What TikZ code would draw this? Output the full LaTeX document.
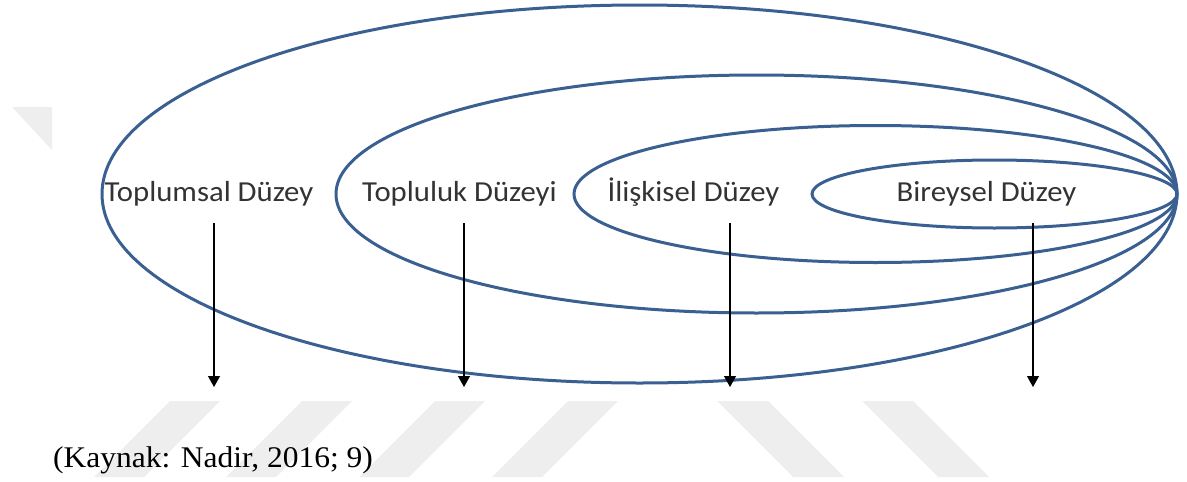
\documentclass[tikz,border=0pt]{standalone}
\usepackage{fontspec}
\usetikzlibrary{arrows.meta}
\newfontfamily\fontlivello[FakeStretch=1.06]{Carlito}
\newfontfamily\fontkaynak[FakeStretch=1.05]{Liberation Serif}
\definecolor{bluellisse}{RGB}{58,95,145}
\definecolor{filigrana}{RGB}{238,238,238}
\tikzset{
  livello/.style={draw=bluellisse, line width=3pt},
  etichetta/.style={anchor=base, inner sep=0pt, text=black!80,
    font=\fontlivello\fontsize{29}{35}\selectfont},
  freccia/.style={->, line width=1.2pt},
  striscia/.style={fill=filigrana, draw=none}
}
\begin{document}
\begin{tikzpicture}[x=1pt, y=-1pt, >={Triangle[width=12pt,length=11pt]}]
    % --- Impostazioni ---
    \def\destra{1177} % punto comune a destra delle ellissi
    \def\centroy{194} % quota dei centri
    \def\alto{223}    % inizio delle frecce
    \def\basso{387}   % fine delle frecce
    \useasboundingbox (0,0) rectangle (1187,482);

    % --- Filigrana ---
    \fill[striscia] (12,107) -- (52,107) -- (52,150) -- cycle;
    \fill[striscia] (170,401) -- (220,401) -- (144,477) -- (94,477) -- cycle;
    \fill[striscia] (302,401) -- (352,401) -- (276,477) -- (226,477) -- cycle;
    \fill[striscia] (435,401) -- (485,401) -- (409,477) -- (359,477) -- cycle;
    \fill[striscia] (568,401) -- (618,401) -- (542,477) -- (492,477) -- cycle;
    \fill[striscia] (717,401) -- (768,401) -- (844,477) -- (793,477) -- cycle;
    \fill[striscia] (862,401) -- (913,401) -- (989,477) -- (938,477) -- cycle;

    % --- Ellissi ---
    % dalla piu' esterna alla piu' interna, tutte tangenti a destra
    \draw[livello] (\destra-537.5, \centroy) ellipse [x radius=537.5, y radius=189];
    \draw[livello] (\destra-420.5, \centroy) ellipse [x radius=420.5, y radius=119];
    \draw[livello] (\destra-301.5, \centroy) ellipse [x radius=301.5, y radius=68.5];
    \draw[livello] (\destra-182.5, \centroy) ellipse [x radius=182.5, y radius=34];

    % --- Etichette ---
    \node[etichetta] (toplumsal) at (209, 201) {Toplumsal Düzey};
    \node[etichetta] (topluluk) at (459.5, 201) {Topluluk Düzeyi};
    \node[etichetta] (iliskisel) at (693.5, 201) {İlişkisel Düzey};
    \node[etichetta] (bireysel) at (986.5, 201) {Bireysel Düzey};

    % --- Frecce ---
    \coordinate (toplumsalA) at (214, \alto);
    \coordinate (toplumsalB) at (214, \basso);
    \coordinate (toplulukA) at (464, \alto);
    \coordinate (toplulukB) at (464, \basso);
    \coordinate (iliskiselA) at (730, \alto);
    \coordinate (iliskiselB) at (730, \basso);
    \coordinate (bireyselA) at (1033, \alto);
    \coordinate (bireyselB) at (1033, \basso);
    \draw[freccia] (toplumsalA) -- (toplumsalB);
    \draw[freccia] (toplulukA) -- (toplulukB);
    \draw[freccia] (iliskiselA) -- (iliskiselB);
    \draw[freccia] (bireyselA) -- (bireyselB);

    % --- Fonte ---
    \node[anchor=base west, inner sep=0pt, font=\fontkaynak\fontsize{30}{36}\selectfont]
      (kaynak) at (53, 467) {(Kaynak: Nadir, 2016; 9)};
\end{tikzpicture}
\end{document}
